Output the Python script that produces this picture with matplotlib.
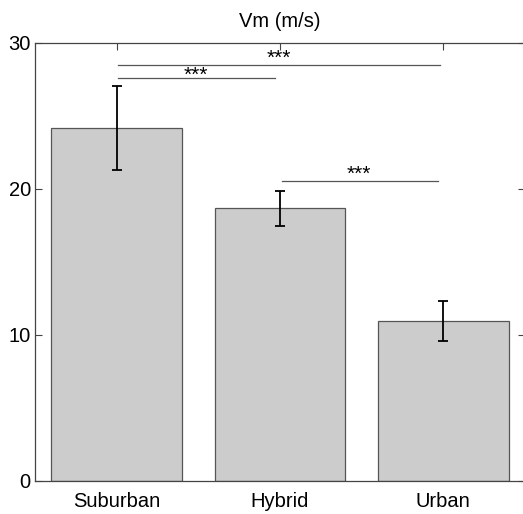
import numpy as np
import matplotlib.pyplot as plt

plt.rcParams['font.family'] = ['Liberation Sans', 'DejaVu Sans']

# data
groups = ['Suburban', 'Hybrid', 'Urban']
vm_mean = [24.15, 18.65, 10.95]
vm_err = [2.88, 1.2, 1.35]

# significance brackets: (from group, to group, height)
sig_from = [1, 1, 2]
sig_to = [1.97, 2.98, 2.97]
sig_y = [27.55, 28.45, 20.5]
sig_label = ['***', '***', '***']
sig_dy = [-0.45, -0.2, -0.2]

fig = plt.figure(figsize=(5.23, 5.14), dpi=100)
ax = fig.add_axes([35 / 523, 33 / 514, 490 / 523, 438.5 / 514])

x = np.arange(1, len(groups) + 1)
ax.bar(x, vm_mean, width=0.8, color='#cccccc', edgecolor='#555555', linewidth=0.9, zorder=2)
ax.errorbar(x, vm_mean, yerr=vm_err, fmt='none', ecolor='black', elinewidth=1.3,
            capsize=3.5, capthick=1.3, zorder=3)

for x0, x1, y, lab, dy in zip(sig_from, sig_to, sig_y, sig_label, sig_dy):
    ax.plot([x0 + 0.01, x1], [y, y], color='#555555', linewidth=0.9, zorder=4)
    ax.text((x0 + x1) / 2, y + dy, lab, ha='center', va='bottom', fontsize=15, zorder=5)

ax.set_xlim(0.5, 3.5)
ax.set_ylim(0, 30)
ax.set_yticks([0, 10, 20, 30])
ax.set_xticks(x)
ax.set_xticklabels(groups)
ax.tick_params(direction='in', length=5, width=0.8, color='#444444', labelsize=14.5,
               top=True, right=True, pad=3)
ax.tick_params(axis='x', pad=8)
for s in ax.spines.values():
    s.set_color('#444444')
    s.set_linewidth(0.9)
ax.set_title('Vm (m/s)', fontsize=14.5, pad=11)

fig.savefig('out.png', dpi=100)
